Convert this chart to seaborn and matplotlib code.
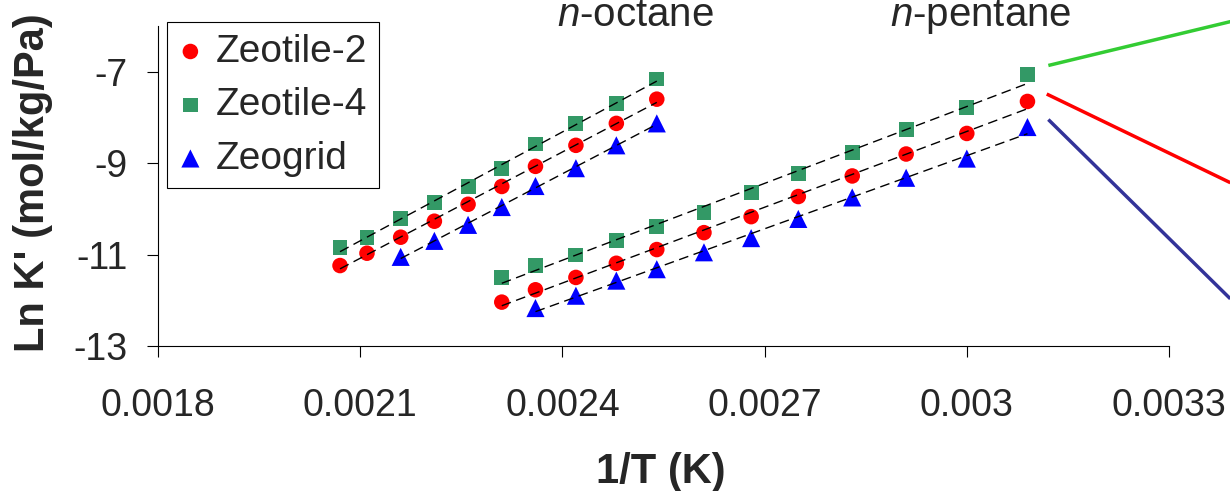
import matplotlib
matplotlib.use("Agg")
import matplotlib.pyplot as plt
import numpy as np
import pandas as pd
import seaborn as sns

# 1/T values (K^-1) for each adsorbate
octane_inv_t = [0.00207, 0.00211, 0.00216, 0.00221, 0.00226,
                0.00231, 0.00236, 0.00242, 0.00248, 0.00254]
pentane_inv_t = [0.00231, 0.00236, 0.00242, 0.00248, 0.00254, 0.00261,
                 0.00268, 0.00275, 0.00283, 0.00291, 0.00300, 0.00309]

# Ln K' (mol/kg/Pa)
octane_zt2 = [-11.24, -10.97, -10.62, -10.27, -9.90, -9.51, -9.07, -8.61, -8.13, -7.60]
octane_zt4 = [-10.84, -10.63, -10.22, -9.86, -9.51, -9.11, -8.58, -8.14, -7.69, -7.16]
octane_zg = [-11.05, -10.70, -10.35, -9.96, -9.50, -9.11, -8.61, -8.13]          # from 3rd temperature
pentane_zt2 = [-12.04, -11.77, -11.50, -11.19, -10.89, -10.52, -10.17, -9.73,
               -9.28, -8.80, -8.35, -7.65]
pentane_zt4 = [-11.50, -11.24, -11.01, -10.70, -10.39, -10.08, -9.65, -9.22,
               -8.76, -8.26, -7.78, -7.07]
pentane_zg = [-12.17, -11.90, -11.57, -11.32, -10.95, -10.64, -10.22, -9.75,
              -9.32, -8.90, -8.21]                                               # from 2nd temperature

materials = ["Zeotile-2", "Zeotile-4", "Zeogrid"]
marker_colors = {"Zeotile-2": "#FF0000", "Zeotile-4": "#339966", "Zeogrid": "#0000FF"}
marker_shapes = {"Zeotile-2": "o", "Zeotile-4": "s", "Zeogrid": "^"}
marker_areas = {"Zeotile-2": 125, "Zeotile-4": 115, "Zeogrid": 170}

x_ticks = [0.0018, 0.0021, 0.0024, 0.0027, 0.0030, 0.0033]
x_tick_labels = ["0.0018", "0.0021", "0.0024", "0.0027", "0.003", "0.0033"]
y_ticks = [-13, -11, -9, -7]

# Leader lines running off to the right of the plot
leader_x = [0.003121, 0.003391]
leader_green_y = [-6.863, -5.904]
leader_red_x = [0.0031186, 0.003391]
leader_red_y = [-7.488, -9.427]
leader_blue_y = [-8.046, -11.967]

series = [
    ("n-octane", "Zeotile-2", octane_inv_t, octane_zt2),
    ("n-octane", "Zeotile-4", octane_inv_t, octane_zt4),
    ("n-octane", "Zeogrid", octane_inv_t[2:], octane_zg),
    ("n-pentane", "Zeotile-2", pentane_inv_t, pentane_zt2),
    ("n-pentane", "Zeotile-4", pentane_inv_t, pentane_zt4),
    ("n-pentane", "Zeogrid", pentane_inv_t[1:], pentane_zg),
]
frames = [pd.DataFrame({"alkane": a, "material": m, "inv_t": xs, "lnk": ys})
          for a, m, xs, ys in series]
df = pd.concat(frames, ignore_index=True)

sns.set_style("ticks")
plt.rcParams["font.family"] = ["Liberation Sans", "DejaVu Sans"]
plt.rcParams["axes.unicode_minus"] = False
plt.rcParams["mathtext.fontset"] = "custom"
plt.rcParams["mathtext.rm"] = "Liberation Sans"
plt.rcParams["mathtext.it"] = "Liberation Sans:italic"

fig = plt.figure(figsize=(12.3, 4.91), dpi=100)
ax = fig.add_axes([0.1285, 0.2953, 0.9504 - 0.1285, 0.947 - 0.2953])

for m in materials:
    sub = df[df["material"] == m]
    sns.scatterplot(data=sub, x="inv_t", y="lnk", ax=ax, color=marker_colors[m],
                    marker=marker_shapes[m], s=marker_areas[m], edgecolor="none",
                    label=m, zorder=3)

# linear trend lines for every alkane/material pair
for a, m, xs, ys in series:
    sns.regplot(x=np.array(xs), y=np.array(ys), ax=ax, scatter=False, ci=None,
                truncate=True,
                line_kws=dict(color="black", lw=1.0, ls=(0, (7, 4)), zorder=5))

ax.plot(leader_x, leader_green_y, color="#33CC33", lw=2.5, clip_on=False,
        solid_capstyle="butt")
ax.plot(leader_red_x, leader_red_y, color="#FF0000", lw=2.5, clip_on=False,
        solid_capstyle="butt")
ax.plot(leader_x, leader_blue_y, color="#333399", lw=2.5, clip_on=False,
        solid_capstyle="butt")

ax.text(0.002508, -6.01, r"$\mathit{n}$-octane", ha="center", va="baseline",
        fontsize=29, clip_on=False)
ax.text(0.003021, -6.01, r"$\mathit{n}$-pentane", ha="center", va="baseline",
        fontsize=29, clip_on=False)

ax.set_xlim(0.0018, 0.0033)
ax.set_ylim(-13, -6)
ax.set_xticks(x_ticks)
ax.set_xticklabels(x_tick_labels)
ax.set_yticks(y_ticks)
ax.set_yticklabels([str(v) for v in y_ticks])

ax.tick_params(axis="both", labelsize=27, length=8, width=0.8, color="black",
               direction="out")
ax.tick_params(axis="x", pad=22)
ax.tick_params(axis="y", pad=14)

for side in ["top", "right"]:
    ax.spines[side].set_visible(False)
for side in ["left", "bottom"]:
    ax.spines[side].set_color("black")
    ax.spines[side].set_linewidth(0.8)

ax.set_xlabel("1/T (K)", fontsize=30, fontweight="bold")
ax.set_ylabel("Ln K' (mol/kg/Pa)", fontsize=30, fontweight="bold")
ax.xaxis.set_label_coords(0.497, -0.33)
ax.yaxis.set_label_coords(-0.104, 0.51)

leg = ax.legend(loc="upper left", bbox_to_anchor=(0.0089, 1.0125),
                borderaxespad=0, fontsize=28, frameon=True, fancybox=False,
                edgecolor="black", framealpha=1, borderpad=0.3,
                labelspacing=0.45, handlelength=0.6, handletextpad=0.35)
leg.get_frame().set_linewidth(0.8)

fig.savefig("out.png", dpi=100)
